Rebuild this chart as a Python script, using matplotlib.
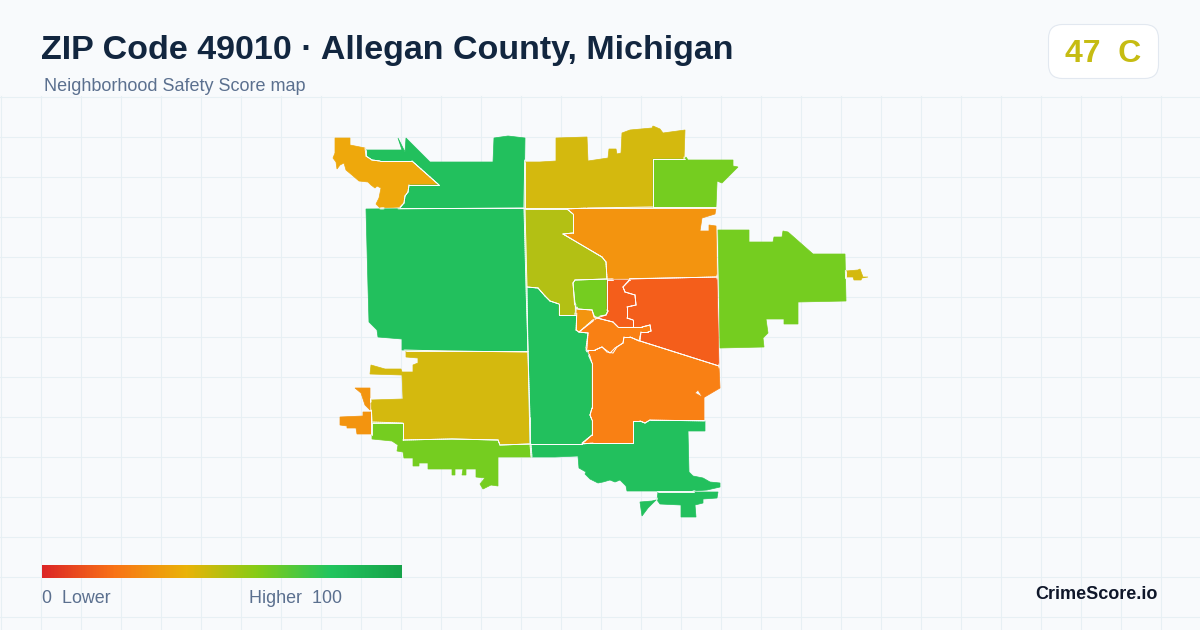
import numpy as np
import matplotlib
matplotlib.use('Agg')
import matplotlib.pyplot as plt
from matplotlib.collections import LineCollection
from matplotlib.colors import LinearSegmentedColormap
from matplotlib.patches import FancyBboxPatch
from matplotlib.path import Path

plt.rcParams['font.family'] = ['Liberation Sans', 'DejaVu Sans']

TITLE = 'ZIP Code 49010 · Allegan County, Michigan'
SUBTITLE = 'Neighborhood Safety Score map'
SCORE_TEXT = '47  C'
BRAND = 'CrimeScore.io'

GREEN = '#22c05d'
LIME = '#75cd20'
GOLD = '#d4b90e'
OLIVE = '#b3c014'
AMBER = '#eea80c'
ORANGE = '#f3940f'
ORANGE2 = '#f98014'
RED_ORANGE = '#f45e1b'

# area outlines
nw_amber = [(335,138),(350,138),(350,145),(365,148),(366,156),(372,160),(380,161),(412,161),(439,185),
            (409,185),(408,192),(405,196),(404,203),(400,207),(380,208),(376,204),(379,198),(381,188),
            (377,186),(375,188),(371,185),(368,182),(359,181),(352,175),(346,170),(344,163),(340,165),
            (337,169),(336,162),(333,158),(335,153)]
n_green = [(366,150),(402,150),(398,138),(405,152),(406,138),(430,162),(493,162),(494,138),(508,136),
           (525,138),(524,208),(400,208),(404,203),(405,196),(408,192),(409,185),(439,185),(412,161),
           (380,161),(372,160),(366,156)]
w_green = [(366,209),(524,208),(526,287),(527,320),(528,351),(448,351),(402,350),(402,339),(378,337),
           (377,330),(369,322),(368,287)]
sw_gold = [(406,351),(448,351),(528,352),(530,417),(530,444),(500,445),(498,440),(452,439),(403,440),
           (403,423),(372,422),(371,400),(403,399),(402,375),(370,374),(371,365),(385,369),(401,369),
           (402,372),(413,372),(413,365),(418,363),(418,358),(406,357)]
w_amber_a = [(355,388),(370,388),(370,410),(365,405),(361,393)]
w_amber_b = [(340,417),(363,416),(363,412),(371,412),(371,434),(357,434),(356,428),(347,428),(347,426),(340,425)]
s_lime = [(372,423),(403,423),(403,440),(452,439),(498,440),(500,445),(530,444),(531,457),(498,457),
          (498,486),(491,485),(483,489),(480,484),(485,478),(476,477),(476,469),(466,469),(466,475),
          (462,475),(463,469),(455,469),(455,475),(452,475),(452,469),(428,469),(428,463),(419,463),
          (419,466),(413,466),(413,458),(404,458),(403,452),(397,451),(398,445),(392,441),(372,439)]
c_green = [(527,287),(538,288),(545,296),(550,301),(559,304),(559,315),(576,315),(576,330),(579,332),
           (588,333),(587,348),(586,350),(592,363),(592,408),(590,415),(592,420),(592,435),(582,444),
           (530,444),(528,352)]
s_green = [(531,444),(582,444),(593,443),(603,443),(633,443),(633,421),(640,421),(645,423),(650,420),
           (705,421),(705,431),(688,431),(689,472),(693,476),(703,478),(710,482),(720,483),(720,487),
           (707,490),(693,491),(657,491),(627,491),(626,486),(620,480),(615,482),(610,480),(603,482),
           (598,483),(590,479),(585,474),(586,472),(579,468),(578,456),(555,457),(532,457)]
s_green_b = [(658,492),(718,492),(717,498),(703,499),(703,503),(695,505),(696,517),(681,517),(681,505),
             (660,504),(657,500)]
s_green_c = [(640,502),(652,501),(656,500),(648,508),(642,516)]
n_gold = [(525,162),(540,162),(556,161),(556,138),(587,137),(588,161),(608,158),(609,149),(616,149),
          (617,154),(621,153),(622,133),(630,130),(652,128),(653,126),(660,129),(663,133),(685,130),
          (684,159),(653,159),(653,207),(587,208),(567,208),(525,208)]
ne_lime = [(653,159),(685,159),(686,157),(688,160),(733,160),(733,166),(738,167),(722,183),(717,181),
           (717,183),(716,207),(653,207)]
c_orange = [(567,209),(586,208),(716,208),(715,214),(702,218),(700,231),(709,231),(709,225),(716,226),
            (717,277),(670,278),(607,279),(606,262),(602,257),(563,234),(573,233),(573,214)]
c_olive = [(525,209),(567,209),(573,214),(573,233),(563,234),(602,257),(606,262),(607,279),(575,280),
           (573,283),(574,295),(575,315),(559,315),(559,304),(550,301),(545,296),(538,288),(527,287)]
town_lime = [(575,280),(607,279),(607,310),(608,311),(606,315),(594,317),(592,310),(578,309),(575,303),
             (574,295),(573,283)]
town_orange = [(577,309),(592,310),(595,318),(579,332),(576,330)]
town_center = [(597,318),(613,322),(618,327),(642,327),(650,325),(651,331),(648,332),(641,332),(639,341),
               (630,337),(624,337),(623,343),(617,347),(613,353),(607,352),(602,347),(595,350),(587,350),
               (586,348),(588,333),(579,332)]
red_west = [(607,280),(630,280),(623,287),(625,292),(635,295),(636,305),(627,307),(627,318),(633,320),
            (633,327),(618,327),(613,322),(597,318),(606,315),(608,311),(607,310)]
red_east = [(630,279),(670,278),(717,277),(719,366),(640,341),(641,332),(648,332),(651,331),(650,325),
            (642,327),(633,327),(633,320),(627,318),(627,307),(636,305),(635,295),(625,292),(623,287)]
s_orange = [(588,350),(595,350),(602,347),(610,353),(615,348),(623,343),(624,337),(630,337),(640,341),
            (719,366),(720,388),(703,398),(698,390),(695,393),(704,398),(704,420),(650,420),(645,423),
            (640,421),(633,421),(633,443),(603,443),(593,443),(582,443),(592,435),(592,420),(590,415),
            (592,408),(592,363)]
e_lime = [(718,230),(749,230),(749,242),(773,242),(774,237),(782,237),(783,231),(788,232),(813,254),
          (845,254),(846,301),(798,302),(798,324),(784,324),(784,319),(766,319),(768,333),(763,338),
          (764,347),(720,348),(719,277)]
e_gold = [(846,271),(858,270),(860,269),(863,277),(868,277),(862,278),(861,280),(854,280),(853,277),(846,277)]

areas = [nw_amber, n_green, w_green, sw_gold, w_amber_a, w_amber_b, s_lime, c_green, s_green, s_green_b,
         s_green_c, n_gold, ne_lime, c_orange, c_olive, town_lime, town_orange, red_west, red_east,
         s_orange, town_center, e_lime, e_gold]
area_colors = [AMBER, GREEN, GREEN, GOLD, ORANGE, ORANGE, LIME, GREEN, GREEN, GREEN,
               GREEN, GOLD, LIME, ORANGE, OLIVE, LIME, ORANGE, RED_ORANGE, RED_ORANGE,
               ORANGE2, ORANGE2, LIME, GOLD]

legend_stops = [0, 0.2, 0.4, 0.6, 0.8, 1]
legend_colors = ['#dc2626', '#f97316', '#eab308', '#84cc16', '#22c55e', '#16a34a']


def shared_segments(polys):
    # white only where two areas touch, the outer rim stays unstroked
    paths = [Path(p + [p[0]], closed=True) for p in polys]
    segs = []
    for i, p in enumerate(polys):
        others = [q for j, q in enumerate(paths) if j != i]
        for a, b in zip(p, p[1:] + p[:1]):
            a, b = np.array(a, float), np.array(b, float)
            n = max(int(np.hypot(*(b - a)) / 2), 1)
            for k in range(n):
                s = a + (b - a) * k / n
                e = a + (b - a) * (k + 1) / n
                mid = (s + e) / 2
                if any(q.contains_point(mid, radius=2.2) or q.contains_point(mid, radius=-2.2) for q in others):
                    segs.append([s, e])
    return segs


fig = plt.figure(figsize=(12, 6.3), dpi=100, facecolor='#f8fafc')
ax = fig.add_axes([0, 0, 1, 1])
ax.axis('off')

# background grid, starts under the header
for x in range(0, 1200, 40):
    ax.plot([x + 0.5, x + 0.5], [96, 630], color='#e7f0f4', lw=0.8, zorder=1)
for y in range(96, 630, 40):
    ax.plot([0, 1200], [y + 0.5, y + 0.5], color='#e7f0f4', lw=0.8, zorder=1)

for area, c in zip(areas, area_colors):
    xs, ys = zip(*area)
    ax.fill(xs, ys, facecolor=c, edgecolor=c, lw=0.5, zorder=2)

ax.add_collection(LineCollection(shared_segments(areas), colors='white', linewidths=0.65,
                                 capstyle='round', zorder=3))

ax.text(41, 59, TITLE, fontsize=24.5, fontweight='bold', color='#12263f', va='baseline', ha='left', zorder=5)
ax.text(44, 91, SUBTITLE, fontsize=12.95, color='#5b708f', va='baseline', ha='left', zorder=5)

# score badge
badge = FancyBboxPatch((1048.5, 24.5), 110, 54, boxstyle='round,pad=0,rounding_size=14',
                       facecolor='white', edgecolor='#e2e8f0', lw=0.8, zorder=4)
ax.add_patch(badge)
ax.text(1103, 62, SCORE_TEXT, fontsize=23, fontweight='bold', color='#c6bc12', va='baseline', ha='center', zorder=5)

# legend bar
cmap = LinearSegmentedColormap.from_list('score', list(zip(legend_stops, legend_colors)))
ax.imshow(np.linspace(0, 1, 360)[None, :], cmap=cmap, extent=(42, 402, 578, 565), aspect='auto', zorder=3)
ax.set_xlim(0, 1200)
ax.set_ylim(630, 0)

ax.text(42, 603, '0  Lower', fontsize=12.9, color='#5b708f', va='baseline', ha='left', zorder=5)
ax.text(249, 603, 'Higher  100', fontsize=12.9, color='#5b708f', va='baseline', ha='left', zorder=5)
ax.text(1158, 599, BRAND, fontsize=13, fontweight='bold', color='#0f172a', va='baseline', ha='right', zorder=5)

fig.savefig('out.png', dpi=100, facecolor=fig.get_facecolor())
